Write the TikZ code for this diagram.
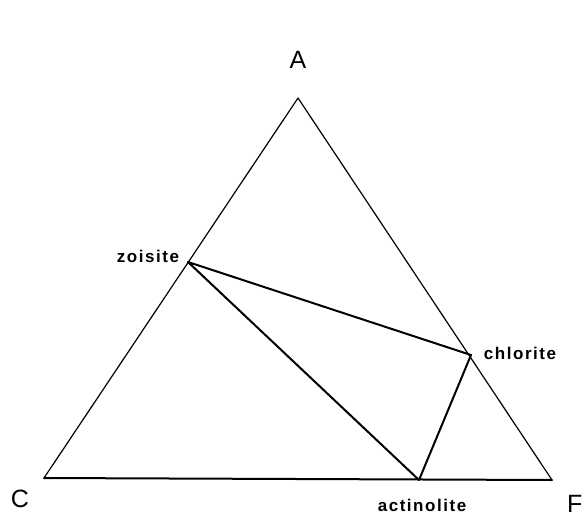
\documentclass[tikz,border=0pt]{standalone}
\usepackage{fontspec}
\setmainfont{Liberation Sans}
\newfontfamily\lblfont[LetterSpace=9]{Liberation Sans Bold}
\begin{document}
\begin{tikzpicture}[x=1pt,y=-1pt,
  vertexlabel/.style={font=\fontsize{25}{25}\selectfont, inner sep=0pt},
  minlabel/.style={font=\lblfont\fontsize{17}{17}\selectfont, inner sep=0pt},
  side/.style={line width=1.2pt, line cap=round, line join=round},
  tie/.style={line width=2pt, line cap=round, line join=round}]
\useasboundingbox (0,0) rectangle (584,515);
\coordinate (A) at (298,98);
\coordinate (C) at (44,478);
\coordinate (F) at (552,480);
\coordinate (zo) at (188,262);
\coordinate (ch) at (471,355);
\coordinate (ac) at (419,480);
\draw[side] (C) -- (A) -- (F);
\draw[tie] (C) -- (F);
\draw[tie] (zo) -- (ch) -- (ac) -- cycle;
\node[vertexlabel] (lA) at (298,60) {A};
\node[vertexlabel] (lC) at (20,499) {C};
\node[vertexlabel, anchor=west] (lF) at (567,504) {F};
\node[minlabel] (lzo) at (148,256) {zoisite};
\node[minlabel] (lch) at (520,353) {chlorite};
\node[minlabel] (lac) at (422,505) {actinolite};
\end{tikzpicture}
\end{document}
